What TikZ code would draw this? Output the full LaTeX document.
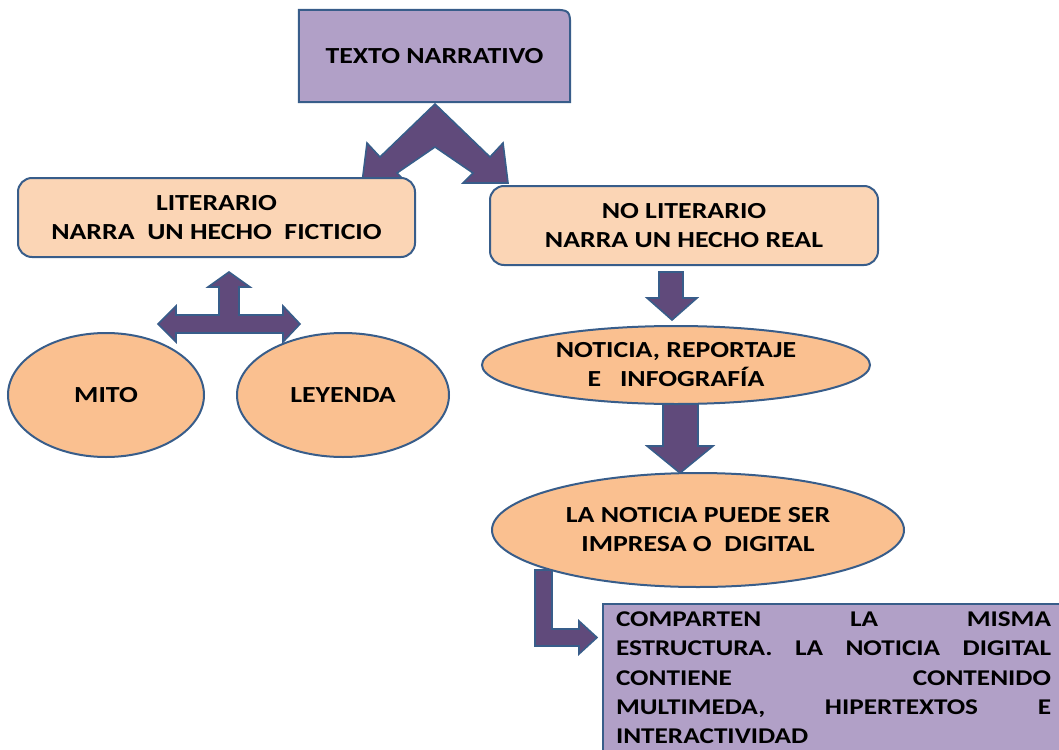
\documentclass[tikz,border=0pt]{standalone}
\usepackage{fontspec}
\setmainfont{Carlito}[FakeStretch=1.21]
\usetikzlibrary{shapes.geometric,backgrounds}
\definecolor{bluebdr}{RGB}{56,93,138}
\definecolor{lavender}{RGB}{177,160,199}
\definecolor{peachlt}{RGB}{251,213,181}
\definecolor{peach}{RGB}{250,192,144}
\definecolor{arrowpurple}{RGB}{96,74,123}

\begin{document}
\begin{tikzpicture}[x=1pt,y=-1pt,
    bdr/.style={draw=bluebdr,line width=2pt},
    txt/.style={font=\fontsize{23}{29}\selectfont\bfseries,align=center,text=black},
    pbox/.style={bdr,txt,fill=peachlt,rounded corners=14pt,minimum height=79pt,inner sep=0pt},
    oval/.style={bdr,txt,ellipse,fill=peach,inner sep=0pt},
    blk/.style={draw=bluebdr,line width=1.6pt,fill=arrowpurple,line join=miter}]
  \useasboundingbox (0,0) rectangle (1059,749);
  \clip (0,0) rectangle (1059,749);
  \node[txt,minimum width=271pt,minimum height=92pt,inner sep=0pt] (tn) at (434.5,56) {TEXTO NARRATIVO};
  \begin{scope}[on background layer]
    \filldraw[bdr,fill=lavender] (tn.south west) -- (tn.north west) -- ([xshift=-20pt]tn.north east)
      .. controls (tn.north east) .. ([yshift=-20pt]tn.north east) -- (tn.south east) -- cycle;
  \end{scope}
  \filldraw[blk] (435,104) -- (490,157) -- (503,143) -- (508,183) -- (463,183) -- (473,173) -- (435,147)
    -- (397,173) -- (407,183) -- (362,183) -- (367,143) -- (380,157) -- cycle;
  \node[pbox,minimum width=397pt] (lit) at (216.5,217.5) {LITERARIO\\NARRA\ \ UN HECHO\ \ FICTICIO};
  \node[pbox,minimum width=388pt] (nolit) at (684,225.5) {NO LITERARIO\\NARRA UN HECHO REAL};
  \filldraw[blk] (229,272) -- (250,287) -- (239,287) -- (239,315) -- (283,315) -- (283,306) -- (300,324)
    -- (283,342) -- (283,333) -- (176,333) -- (176,342) -- (158,324) -- (176,306) -- (176,315)
    -- (219,315) -- (219,287) -- (208,287) -- cycle;
  \node[oval,minimum width=196pt,minimum height=124pt] (mito) at (106,395) {MITO};
  \node[oval,minimum width=212pt,minimum height=124pt] (leyenda) at (343,395) {LEYENDA};
  \filldraw[blk] (659,272) -- (683,272) -- (683,298) -- (697,298) -- (672,320) -- (647,298) -- (659,298) -- cycle;
  \filldraw[blk] (663,395) -- (698,395) -- (698,446) -- (713,446) -- (680,473) -- (647,446) -- (663,446) -- cycle;
  \node[oval,minimum width=388pt,minimum height=78pt] (noticia) at (676,365) {NOTICIA, REPORTAJE\\E\ \ \ INFOGRAFÍA};
  \filldraw[blk] (535,570) -- (552,570) -- (552,629) -- (579,629) -- (579,621) -- (597,637.5) -- (579,654)
    -- (579,646) -- (535,646) -- cycle;
  \node[oval,minimum width=412pt,minimum height=114pt] (digital) at (698,530) {LA NOTICIA PUEDE SER\\IMPRESA O\ \ DIGITAL};
  \node[bdr,fill=lavender,anchor=north west,text width=435pt,inner xsep=13pt,inner ysep=8pt,text depth=145pt,
    align=left,text=black,font=\fontsize{22.5}{29.2}\selectfont\bfseries] (estr) at (602,603)
    {COMPARTEN\hfill LA\hfill MISMA\\
     ESTRUCTURA.\hfill LA\hfill NOTICIA\hfill DIGITAL\\
     CONTIENE\hfill CONTENIDO\\
     MULTIMEDA,\hfill HIPERTEXTOS\hfill E\\
     INTERACTIVIDAD\hfill\null};
\end{tikzpicture}
\end{document}
